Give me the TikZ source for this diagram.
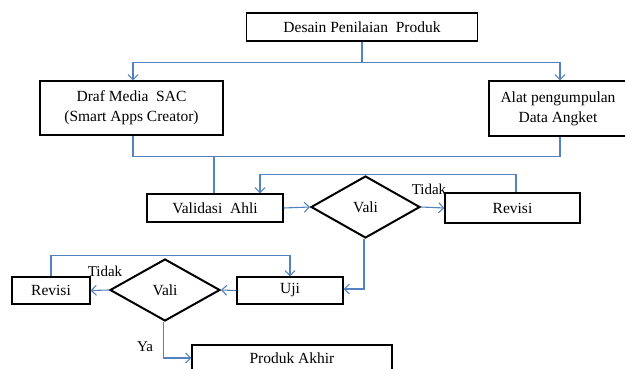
\documentclass[tikz,border=0pt]{standalone}
\usepackage{fontspec}
\setmainfont{Liberation Serif}
\usetikzlibrary{arrows.meta,shapes.geometric}
\definecolor{lnblue}{RGB}{84,130,190}
\begin{document}
\begin{tikzpicture}[x=1pt,y=-1pt,
  every node/.style={font=\fontsize{15.5}{20}\selectfont, inner sep=0pt, align=center},
  box/.style={draw=black, line width=1.2pt, rectangle},
  dia/.style={draw=black, line width=2pt, diamond, aspect=1.75},
  conn/.style={draw=lnblue, line width=1.1pt},
  arr/.style={conn, -{Straight Barb[length=5pt,width=10pt,line width=1.1pt]}},
  lab/.style={font=\fontsize{15}{17}\selectfont}]
\useasboundingbox (0,0) rectangle (625,369);
\clip (0,0) rectangle (625,369);
\node[box, minimum width=231pt, minimum height=28pt] (top) at (362,27) {Desain Penilaian~ Produk};
\node[box, minimum width=183pt, minimum height=54pt] (draf) at (131.5,108) {Draf Media~ SAC\\(Smart Apps Creator)};
\node[box, minimum width=138pt, minimum height=55pt] (alat) at (558,108.5) {Alat pengumpulan\\Data Angket};
\node[box, minimum width=136pt, minimum height=28pt] (val) at (215,208) {Validasi~ Ahli};
\node[dia, minimum width=109pt, minimum height=62pt] (v1) at (365.5,207) {Vali};
\node[box, minimum width=135pt, minimum height=30pt] (rev1) at (512.5,208) {Revisi};
\node[box, minimum width=106pt, minimum height=27pt] (uji) at (290,290.5) {Uji};
\node[dia, minimum width=110pt, minimum height=62pt] (v2) at (165,290) {Vali};
\node[box, minimum width=78pt, minimum height=27pt] (rev2) at (51,290.5) {Revisi};
\node[box, minimum width=200pt, minimum height=26pt] (pa) at (292,358) {Produk Akhir};
\node[lab] (t1) at (429,189) {Tidak};
\node[lab] (t2) at (105,271) {Tidak};
\node[lab] (ya) at (145,347) {Ya};
% connectors
\draw[arr] (top.south) -- ++(0,21) -| ([xshift=1.5pt]draf.north);
\draw[arr] (top.south) -- ++(0,21) -| ([xshift=2pt]alat.north);
\draw[conn] ([xshift=1.5pt]draf.south) -- ++(0,21) -| ([xshift=2pt]alat.south);
\coordinate (m) at ([xshift=-1pt]val.north |- 0,156);
\draw[conn] (m) -- ([xshift=-1pt]val.north);
\draw[arr] (val.east) -- (v1.west);
\draw[arr] (v1.east) -- (rev1.west);
\draw[arr] ([xshift=3.5pt]rev1.north) -- ++(0,-18) -| ([xshift=45pt]val.north);
\draw[arr] ([xshift=-1.5pt]v1.south) |- ([yshift=1.5pt]uji.east);
\draw[arr] (uji.west) -- (v2.east);
\draw[arr] (v2.west) -- (rev2.east);
\draw[arr] (rev2.north) -- ++(0,-21) -| (uji.north);
\draw[arr] ([xshift=-1.5pt]v2.south) |- (pa.west);
\end{tikzpicture}
\end{document}
